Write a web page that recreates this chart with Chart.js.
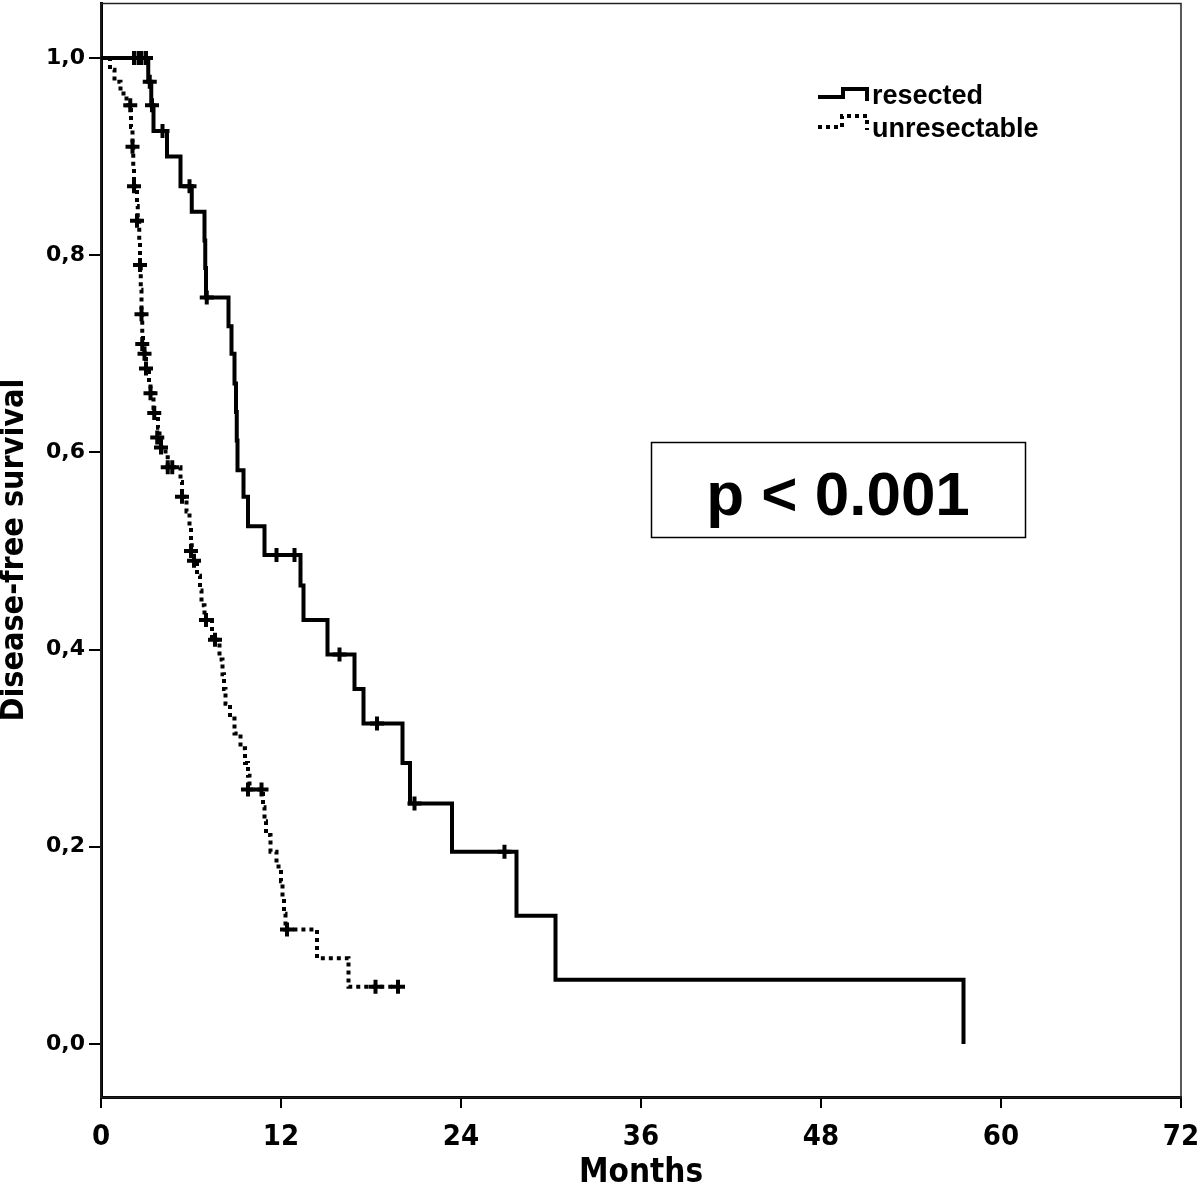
<!DOCTYPE html>
<html><head><meta charset="utf-8">
<script src="https://cdn.jsdelivr.net/npm/chart.js@4/dist/chart.umd.min.js"></script>
<style>html,body{margin:0;padding:0;background:#fff;}#wrap{width:1200px;height:1189px;}</style>
</head><body><div id="wrap"><canvas id="c" width="1200" height="1189"></canvas></div>
<script>
// ---- data ----
const seriesNames = ['resected', 'unresectable'];
const resectedTimes    = [0, 3.15, 3.35, 3.5, 4.4, 5.3, 6.05, 6.9, 6.95, 7.0, 8.5, 8.7, 8.9, 9.0, 9.05, 9.1, 9.5, 9.8, 10.9, 13.3, 13.5, 15.1, 16.9, 17.5, 20.1, 20.6, 23.4, 27.7, 30.3, 57.5];
const resectedSurvival = [1, 0.976, 0.952, 0.926, 0.90, 0.87, 0.844, 0.815, 0.787, 0.757, 0.728, 0.70, 0.67, 0.641, 0.612, 0.582, 0.555, 0.525, 0.496, 0.465, 0.43, 0.395, 0.36, 0.325, 0.285, 0.244, 0.195, 0.13, 0.065, 0];
const resectedCensorTimes    = [2.2, 2.5, 2.7, 3.0, 3.25, 3.4, 4.1, 5.9, 7.05, 11.7, 12.9, 15.9, 18.4, 20.9, 26.9];
const resectedCensorSurvival = [1, 1, 1, 1, 0.976, 0.952, 0.926, 0.87, 0.757, 0.496, 0.496, 0.395, 0.325, 0.244, 0.195];

const unresTimes    = [0, 0.6, 0.9, 1.3, 1.7, 2.0, 2.1, 2.15, 2.2, 2.4, 2.45, 2.55, 2.6, 2.65, 2.7, 2.75, 2.8, 2.9, 3.0, 3.2, 3.3, 3.5, 3.6, 3.8, 3.9, 4.0, 4.3, 4.45, 5.3, 5.4, 5.7, 5.9, 6.0, 6.05, 6.2, 6.4, 6.6, 6.7, 6.9, 7.4, 7.9, 8.1, 8.2, 8.3, 8.6, 8.9, 9.3, 9.6, 9.8, 9.9, 10.8, 10.9, 11.0, 11.3, 11.7, 12.0, 12.1, 12.2, 12.3, 14.4, 16.5, 19.9];
const unresSurvival = [1, 0.988, 0.976, 0.964, 0.952, 0.93, 0.91, 0.89, 0.87, 0.85, 0.835, 0.815, 0.79, 0.765, 0.74, 0.72, 0.71, 0.70, 0.685, 0.67, 0.66, 0.645, 0.64, 0.625, 0.615, 0.605, 0.595, 0.585, 0.57, 0.555, 0.54, 0.525, 0.51, 0.50, 0.49, 0.475, 0.46, 0.445, 0.43, 0.41, 0.39, 0.375, 0.36, 0.345, 0.33, 0.315, 0.30, 0.285, 0.272, 0.258, 0.24, 0.226, 0.212, 0.195, 0.18, 0.165, 0.148, 0.132, 0.116, 0.087, 0.058, 0.058];
const unresCensorTimes    = [1.95, 2.1, 2.2, 2.4, 2.6, 2.7, 2.75, 2.9, 3.0, 3.3, 3.55, 3.75, 4.0, 4.45, 4.75, 5.4, 6.0, 6.2, 7.0, 7.6, 9.8, 10.7, 12.4, 18.3, 19.8];
const unresCensorSurvival = [0.952, 0.91, 0.87, 0.835, 0.79, 0.74, 0.71, 0.70, 0.685, 0.66, 0.64, 0.615, 0.605, 0.585, 0.585, 0.555, 0.50, 0.49, 0.43, 0.41, 0.258, 0.258, 0.116, 0.058, 0.058];

const xTicks = [0, 12, 24, 36, 48, 60, 72];
const yTicks = [0, 0.2, 0.4, 0.6, 0.8, 1.0];
const xTitle = 'Months';
const yTitle = 'Disease-free survival';
const pValueText = 'p < 0.001';

// ---- helpers ----
const pts = (xs, ys) => xs.map((x, i) => ({x: x, y: ys[i]}));
const NARROW = '"Liberation Sans Narrow", "Arial Narrow", "DejaVu Sans Condensed", sans-serif';

const decorPlugin = {
  id: 'decor',
  beforeDatasetsDraw(chart) {
    const {ctx, chartArea: a} = chart;
    ctx.save();
    ctx.strokeStyle = '#222';
    ctx.lineWidth = 1.5;
    ctx.strokeRect(a.left, a.top + 0.5, a.right - a.left, a.bottom - a.top);
    ctx.restore();
  },
  afterDraw(chart) {
    const ctx = chart.ctx;
    ctx.save();
    // legend icons
    ctx.strokeStyle = '#000';
    ctx.lineWidth = 4;
    ctx.lineJoin = 'miter';
    ctx.beginPath();
    ctx.moveTo(818, 97); ctx.lineTo(843, 97); ctx.lineTo(843, 89); ctx.lineTo(867, 89); ctx.lineTo(867, 101);
    ctx.stroke();
    ctx.setLineDash([4, 4]);
    ctx.beginPath();
    ctx.moveTo(818, 127); ctx.lineTo(842, 127); ctx.lineTo(842, 116); ctx.lineTo(867, 116); ctx.lineTo(867, 130);
    ctx.stroke();
    ctx.setLineDash([]);
    ctx.fillStyle = '#000';
    ctx.font = 'bold 27px "Liberation Sans", Arial, sans-serif';
    ctx.textAlign = 'left';
    ctx.textBaseline = 'alphabetic';
    ctx.fillText(seriesNames[0], 872, 104);
    ctx.fillText(seriesNames[1], 872, 137);
    // p-value box
    ctx.lineWidth = 1.5;
    ctx.strokeStyle = '#000';
    ctx.strokeRect(651.5, 442.5, 374, 95);
    ctx.font = 'bold 62px "Liberation Sans", Arial, sans-serif';
    ctx.textAlign = 'center';
    ctx.fillText(pValueText, 838, 515);
    ctx.restore();
  }
};

const lineCommon = {
  borderColor: '#000', borderWidth: 4, pointRadius: 0, stepped: 'before', fill: false,
  borderCapStyle: 'butt', borderJoinStyle: 'miter'
};
const censorCommon = {
  showLine: false, pointStyle: 'cross', pointRadius: 7, pointBorderWidth: 4,
  pointBorderColor: '#000', pointBackgroundColor: '#000', borderColor: '#000'
};

new Chart(document.getElementById('c'), {
  type: 'line',
  data: {
    datasets: [
      Object.assign({label: seriesNames[1], data: pts(unresTimes, unresSurvival), borderDash: [4, 4]}, lineCommon),
      Object.assign({label: seriesNames[0], data: pts(resectedTimes, resectedSurvival)}, lineCommon),
      Object.assign({label: seriesNames[1] + ' censored', data: pts(unresCensorTimes, unresCensorSurvival)}, censorCommon),
      Object.assign({label: seriesNames[0] + ' censored', data: pts(resectedCensorTimes, resectedCensorSurvival)}, censorCommon)
    ]
  },
  options: {
    responsive: false,
    devicePixelRatio: 1,
    animation: false,
    layout: {autoPadding: false, padding: {left: 0, top: 3, right: 19, bottom: 0}},
    plugins: {legend: {display: false}, tooltip: {enabled: false}},
    scales: {
      x: {
        type: 'linear', min: 0, max: 72,
        afterBuildTicks: s => { s.ticks = xTicks.map(v => ({value: v})); },
        afterFit: s => { s.height = 92; s.paddingLeft = 0; s.paddingRight = 0; },
        grid: {drawOnChartArea: false, drawTicks: true, tickLength: 11, color: '#000', lineWidth: 2},
        border: {display: true, color: '#000', width: 3},
        ticks: {color: '#000', padding: 12, maxRotation: 0, font: {family: NARROW, weight: 'bold', size: 29}},
        title: {display: true, text: xTitle, color: '#000', padding: {top: 0, bottom: 2}, font: {family: NARROW, weight: 'bold', size: 33, lineHeight: 0.8}}
      },
      y: {
        type: 'linear', min: -0.0538, max: 1.0558,
        afterBuildTicks: s => { s.ticks = yTicks.map(v => ({value: v})); },
        afterFit: s => { s.width = 101; s.paddingTop = 0; s.paddingBottom = 0; },
        grid: {drawOnChartArea: false, drawTicks: true, tickLength: 12, color: '#000', lineWidth: 2},
        border: {display: true, color: '#000', width: 3},
        ticks: {color: '#000', padding: 4, callback: v => v.toFixed(1).replace('.', ','), font: {family: '"DejaVu Sans", sans-serif', weight: 'bold', size: 22}},
        title: {display: true, text: yTitle, color: '#000', padding: {top: 2, bottom: 0}, font: {family: NARROW, weight: 'bold', size: 32, lineHeight: 0.8}}
      }
    }
  },
  plugins: [decorPlugin]
});
</script>
</body></html>
